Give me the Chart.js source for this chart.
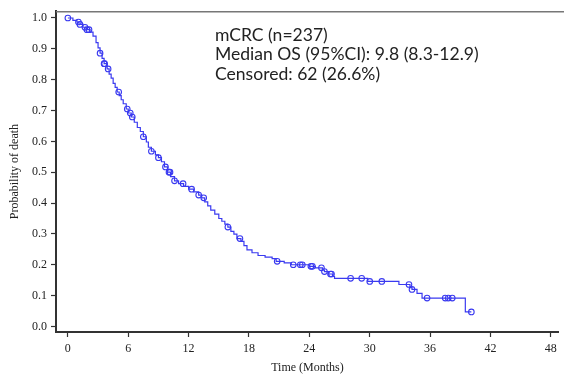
<!DOCTYPE html>
<html>
<head>
<meta charset="utf-8">
<script src="https://cdn.jsdelivr.net/npm/chart.js@4.4.1/dist/chart.umd.min.js"></script>
<style>
  html, body { margin: 0; padding: 0; background: #fff; }
  #wrap { width: 564px; height: 379px; }
</style>
</head>
<body>
<div id="wrap"><canvas id="kmChart" width="564" height="379"></canvas></div>
<script>
// Kaplan-Meier steps (months, probability after the event)
const eventTimes = [0, 0.5, 0.9, 1.1, 1.5, 1.8, 2.2, 2.5, 2.8, 3.0, 3.2, 3.4, 3.6, 3.9, 4.1, 4.3, 4.5, 4.7, 4.9, 5.1,
  5.3, 5.5, 5.8, 6.0, 6.3, 6.6, 6.9, 7.2, 7.5, 7.8, 8.0, 8.3, 8.7, 9.0, 9.3, 9.6, 9.9, 10.2, 10.6, 11.0,
  11.5, 12.0, 12.5, 13.0, 13.3, 13.6, 13.9, 14.2, 14.6, 15.0, 15.3, 15.6, 15.9, 16.2, 16.5, 16.8, 17.2, 17.5, 17.8, 18.3,
  18.9, 19.6, 20.3, 20.7, 21.5, 22.2, 24.0, 24.6, 25.3, 25.5, 25.9, 26.3, 26.5, 29.8, 32.9, 34.0, 34.2, 34.7, 35.2, 39.5, 40.1];
const survival = [1.0, 0.992, 0.987, 0.979, 0.970, 0.962, 0.954, 0.941, 0.920, 0.903, 0.886, 0.869, 0.852, 0.835, 0.818, 0.805, 0.788, 0.775, 0.760, 0.748,
  0.735, 0.722, 0.705, 0.692, 0.679, 0.662, 0.645, 0.632, 0.615, 0.598, 0.581, 0.568, 0.556, 0.547, 0.534, 0.517, 0.500, 0.486, 0.472, 0.463,
  0.454, 0.445, 0.436, 0.426, 0.417, 0.404, 0.391, 0.377, 0.364, 0.350, 0.341, 0.332, 0.322, 0.308, 0.299, 0.285, 0.276, 0.262, 0.248, 0.239,
  0.230, 0.225, 0.220, 0.211, 0.206, 0.200, 0.195, 0.190, 0.183, 0.178, 0.170, 0.162, 0.156, 0.146, 0.136, 0.126, 0.120, 0.107, 0.092, 0.047, 0.047];
const censorTimes = [0, 1.05, 1.2, 1.7, 1.9, 2.1, 3.2, 3.6, 3.65, 4.0, 5.05, 5.9, 6.2, 6.4, 7.5, 8.3, 9.0, 9.7, 10.05, 10.15,
  10.6, 11.45, 12.3, 13.0, 13.5, 15.9, 17.1, 20.8, 22.4, 23.1, 23.3, 24.15, 24.3, 25.2, 25.5, 26.1, 26.2, 28.1, 29.2, 30.0,
  31.2, 33.9, 34.2, 35.7, 37.5, 37.8, 38.2, 40.1];
const xTicks = [0, 6, 12, 18, 24, 30, 36, 42, 48];
const yTicks = [0, 0.1, 0.2, 0.3, 0.4, 0.5, 0.6, 0.7, 0.8, 0.9, 1.0];
const noteLines = ['mCRC (n=237)', 'Median OS (95%CI): 9.8 (8.3-12.9)', 'Censored: 62 (26.6%)'];

function survivalAt(t) {
  let s = survival[0];
  for (let i = 0; i < eventTimes.length; i++) {
    if (eventTimes[i] <= t) s = survival[i];
  }
  return s;
}

const lineColor = 'rgb(58,58,240)';
const axisColor = '#333';
const tickFont = { family: '"Liberation Serif", "Times New Roman", serif', size: 12 };

const notePlugin = {
  id: 'note',
  afterDraw(chart) {
    const ctx = chart.ctx;
    const area = chart.chartArea;
    ctx.save();
    // top frame line
    ctx.strokeStyle = '#777';
    ctx.lineWidth = 1.5;
    ctx.beginPath();
    ctx.moveTo(area.left, area.top + 0.5);
    ctx.lineTo(chart.width, area.top + 0.5);
    ctx.stroke();
    // annotation text, sized so the long line matches the picture
    let size = 17;
    ctx.font = size + 'px Lato, "Open Sans", sans-serif';
    const w = ctx.measureText(noteLines[1]).width;
    size = size * 264 / w;
    ctx.font = size + 'px Lato, "Open Sans", sans-serif';
    ctx.fillStyle = '#222';
    ctx.textBaseline = 'middle';
    noteLines.forEach((line, i) => {
      ctx.fillText(line, 215, 35 + i * 19.5);
    });
    ctx.restore();
  }
};

const ctx = document.getElementById('kmChart').getContext('2d');
new Chart(ctx, {
  type: 'scatter',
  data: {
    datasets: [
      {
        label: 'OS',
        data: eventTimes.map((t, i) => ({ x: t, y: survival[i] })),
        showLine: true,
        stepped: true,
        borderColor: lineColor,
        borderWidth: 1.2,
        pointRadius: 0,
        fill: false
      },
      {
        label: 'Censored',
        data: censorTimes.map(t => ({ x: t, y: survivalAt(t) })),
        showLine: false,
        pointStyle: 'circle',
        pointRadius: 2.8,
        borderWidth: 1.1,
        borderColor: lineColor,
        backgroundColor: 'rgba(0,0,0,0)'
      }
    ]
  },
  options: {
    responsive: false,
    animation: false,
    devicePixelRatio: 1,
    layout: { padding: { top: 7, right: 0, left: 0, bottom: 0 } },
    plugins: {
      legend: { display: false },
      tooltip: { enabled: false }
    },
    scales: {
      x: {
        type: 'linear',
        min: -1.18,
        max: 48.8,
        afterBuildTicks: (scale) => { scale.ticks = xTicks.map(v => ({ value: v })); },
        afterFit: (scale) => { scale.height = 47; },
        grid: { display: true, drawOnChartArea: false, drawTicks: true, tickLength: 5, tickColor: axisColor, tickWidth: 1.2 },
        border: { display: true, color: axisColor, width: 2 },
        ticks: { color: '#222', font: tickFont, padding: 5, maxRotation: 0, callback: v => String(v) },
        title: { display: true, text: 'Time (Months)', color: '#222', font: tickFont, padding: { top: 0, bottom: 4 } }
      },
      y: {
        type: 'linear',
        min: -0.018,
        max: 1.022,
        afterBuildTicks: (scale) => { scale.ticks = yTicks.map(v => ({ value: v })); },
        afterFit: (scale) => { scale.width = 56; },
        grid: { display: true, drawOnChartArea: false, drawTicks: true, tickLength: 5, tickColor: axisColor, tickWidth: 1.2 },
        border: { display: true, color: axisColor, width: 2 },
        ticks: { color: '#222', font: tickFont, padding: 4, callback: v => v.toFixed(1) },
        title: { display: true, text: 'Probability of death', color: '#222', font: tickFont, padding: { top: 8, bottom: 0 } }
      }
    }
  },
  plugins: [notePlugin]
});
</script>
</body>
</html>
